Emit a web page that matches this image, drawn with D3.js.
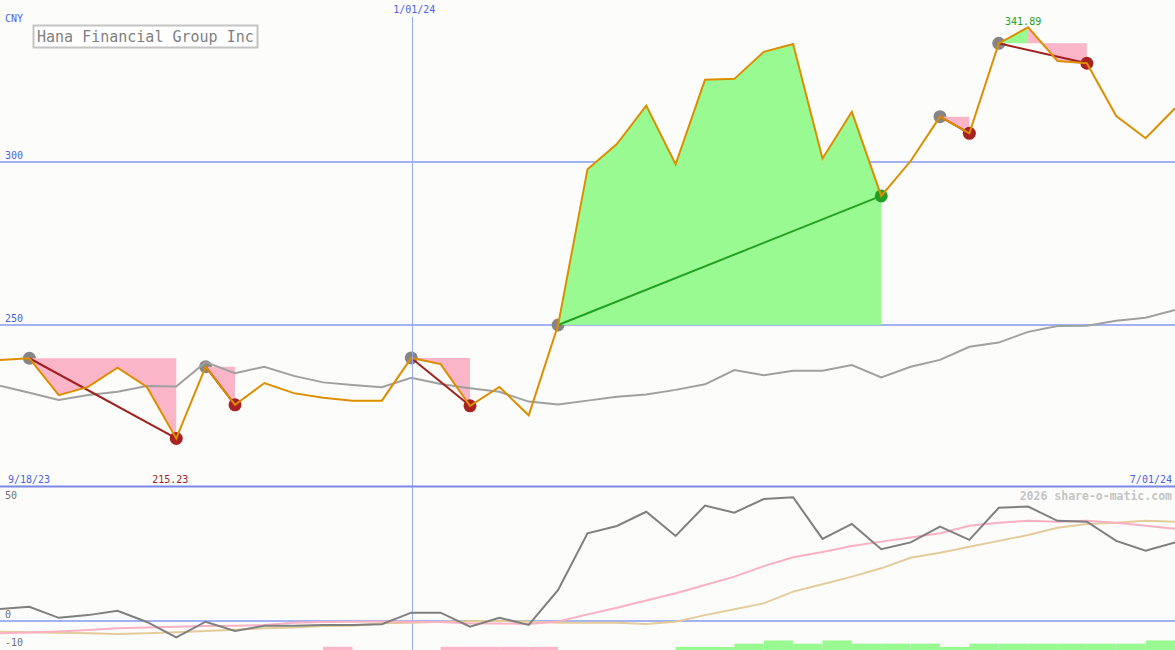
<!DOCTYPE html>
<html>
<head>
<meta charset="utf-8">
<script src="https://cdn.jsdelivr.net/npm/d3@7"></script>
<style>
  html, body { margin: 0; padding: 0; background: #fcfdfa; }
  svg { display: block; }
  text { font-family: "DejaVu Sans Mono", "Liberation Mono", monospace; }
</style>
</head>
<body>
<svg id="chart" width="1175" height="650"></svg>
<script>
// ---------- DATA ----------
const dates = ["2023-09-25","2023-10-02","2023-10-09","2023-10-16","2023-10-23","2023-10-30","2023-11-06","2023-11-13","2023-11-20","2023-11-27",
  "2023-12-04","2023-12-11","2023-12-18","2023-12-25","2024-01-01","2024-01-08","2024-01-15","2024-01-22","2024-01-29","2024-02-05",
  "2024-02-12","2024-02-19","2024-02-26","2024-03-04","2024-03-11","2024-03-18","2024-03-25","2024-04-01","2024-04-08","2024-04-15",
  "2024-04-22","2024-04-29","2024-05-06","2024-05-13","2024-05-20","2024-05-27","2024-06-03","2024-06-10","2024-06-17","2024-06-24","2024-07-01"];

const price = [239.3,239.8,228.5,231.0,236.9,231.0,215.2,237.2,225.5,232.2,
  229.1,227.7,226.8,226.8,239.9,238.0,225.2,231.0,222.3,250.0,
  297.8,305.5,317.3,299.3,325.2,325.5,333.8,336.2,301.1,315.4,
  289.6,300.3,313.9,308.8,336.4,341.3,331.0,330.3,314.1,307.3,316.5];

const priceMA = [231.4,229.2,227.0,228.5,229.5,231.3,231.1,238.6,235.2,237.2,
  234.4,232.4,231.6,230.9,233.8,231.9,230.6,229.5,226.5,225.6,
  226.8,228.0,228.7,230.1,231.8,236.2,234.6,236.0,236.0,237.7,
  233.9,237.2,239.3,243.3,244.6,247.9,249.7,249.8,251.3,252.2,254.6];

// lower panel
const momentum = [4.9,5.8,1.3,2.4,4.2,-0.4,-6.7,-0.3,-4.1,-1.9,
  -1.9,-1.6,-1.6,-1.3,3.4,3.4,-2.3,1.3,-1.6,12.7,
  35.8,38.8,44.6,34.7,47.1,44.2,49.8,50.5,33.5,39.6,
  29.3,32.1,38.5,33.1,46.2,46.7,40.9,40.5,32.7,28.7,32.1];
const momentumFast = [-5.0,-4.7,-4.3,-3.7,-3.0,-2.7,-2.3,-2.0,-1.9,-1.6,
  -0.7,-0.4,-0.3,-0.2,-0.3,-0.4,-1.0,-1.0,-1.2,-0.2,
  2.7,5.4,8.4,11.3,14.7,18.1,22.4,26.0,28.2,30.6,
  32.4,34.1,35.8,38.9,40.1,40.9,40.5,40.9,40.1,38.9,37.6];
const momentumSlow = [-4.4,-4.6,-4.8,-5.0,-5.3,-5.0,-4.6,-4.1,-3.6,-3.0,
  -2.7,-2.0,-1.9,-0.9,-0.7,-0.3,-0.1,0.1,-0.3,-0.7,
  -0.7,-0.7,-1.2,-0.3,2.4,4.8,7.2,12.0,15.0,18.1,
  21.5,25.8,27.9,30.3,32.7,35.1,38.1,39.6,40.1,40.9,40.5];
const histLevels = [0,0,0,0,0,0,0,0,0,0,
  0,-1,0,0,0,-1,-1,-1,-1,0,
  0,0,0,1,1,2,3,2,3,2,
  2,2,1,2,2,2,2,2,2,3];

// swings: start index, end index
const swingStart = [1, 7, 14, 19, 32, 34];
const swingEnd   = [6, 8, 16, 30, 33, 37];

const title = "Hana Financial Group Inc";
const currency = "CNY";
const priceTicks = [250, 300];
const momentumTicks = [50, 0, -10];
const momentumGrid = [0];
const dateMarker = "2024-01-01";
const dateMarkerLabel = "1/01/24";
const startLabel = "9/18/23";
const endLabel = "7/01/24";
const highLabel = {index: 35, text: "341.89"};
const lowLabel = {index: 6, text: "215.23"};
const credit = "2026 share-o-matic.com";

// ---------- STYLE ----------
const C = {
  bg: "#fcfdfa",
  blueText: "#4c5fe6",
  grid: "#a3b2f2",
  vline: "#97a9f6",
  sep: "#7a88ea",
  price: "#dd8e00",
  ma: "#a0a0a0",
  pink: "#fbb5c8",
  green: "#98fa91",
  redDot: "#a82222",
  greenDot: "#239d23",
  grayDot: "#858585",
  redLine: "#a01f1f",
  greenLine: "#23a023",
  mom: "#7f7f7f",
  momFast: "#fbb0c3",
  momSlow: "#e3cb9c"
};

// ---------- SCALES ----------
const W = 1175, H = 650;
const parse = d3.utcParse("%Y-%m-%d");
const dts = dates.map(parse);
const x = d3.scaleUtc().domain([dts[0], dts[dts.length - 1]]).range([0, W]);
const y = d3.scaleLinear().domain([250, 300]).range([325, 162]);
const y2 = d3.scaleLinear().domain([0, 50]).range([621, 498.5]);
const hScale = d3.scaleLinear().domain([0, 3]).range([0, 9.5]);

const svg = d3.select("#chart");
svg.append("rect").attr("width", W).attr("height", H).attr("fill", C.bg);

// ---------- MAIN PANEL ----------
const main = svg.append("g");
main.append("defs").append("clipPath").attr("id", "clipMain")
  .append("rect").attr("x", 0).attr("y", 0).attr("width", W).attr("height", 485);

// gridlines
main.selectAll("line.pgrid").data(priceTicks).join("line")
  .attr("x1", 0).attr("x2", W)
  .attr("y1", d => y(d)).attr("y2", d => y(d))
  .attr("stroke", C.grid).attr("stroke-width", 2);
main.selectAll("text.ptick").data(priceTicks).join("text")
  .attr("x", 5).attr("y", d => y(d) - 3)
  .attr("font-size", 10).attr("fill", C.blueText).text(d => d);

// vertical date marker
const vx = Math.round(x(parse(dateMarker))) + 1.5;
svg.append("line")
  .attr("x1", vx).attr("x2", vx)
  .attr("y1", 17).attr("y2", H)
  .attr("stroke", C.vline).attr("stroke-width", 1);
svg.append("text").attr("x", x(parse(dateMarker)) + 3).attr("y", 13)
  .attr("text-anchor", "middle").attr("font-size", 10).attr("fill", C.blueText)
  .text(dateMarkerLabel);

svg.append("text").attr("x", 5).attr("y", 22).attr("font-size", 10)
  .attr("fill", C.blueText).text(currency);

const plot = main.append("g").attr("clip-path", "url(#clipMain)");

// start dots
plot.selectAll("circle.start").data(swingStart).join("circle")
  .attr("cx", i => x(dts[i])).attr("cy", i => y(price[i])).attr("r", 6.5)
  .attr("fill", C.grayDot);

// swing fills: runs of consecutive segments coloured by the side of each segment end
const fills = [];
swingStart.forEach((s, k) => {
  const e = swingEnd[k];
  const level = price[s];
  let runStart = s, runUp = price[s + 1] >= level;
  for (let i = s + 1; i <= e; i++) {
    const up = i < e ? price[i + 1] >= level : null;
    if (i === e || up !== runUp) {
      const pts = [[x(dts[runStart]), y(level)]];
      for (let j = runStart; j <= i; j++) pts.push([x(dts[j]), y(price[j])]);
      pts.push([x(dts[i]), y(level)]);
      fills.push({pts, up: runUp});
      runStart = i; runUp = up;
    }
  }
});
plot.selectAll("path.fill").data(fills).join("path")
  .attr("d", d => "M" + d.pts.map(p => p.join(",")).join("L") + "Z")
  .attr("fill", d => d.up ? C.green : C.pink);

// moving average
const line = d3.line().x((d, i) => x(dts[i])).y(d => y(d));
plot.append("path").datum(priceMA).attr("d", line)
  .attr("fill", "none").attr("stroke", C.ma).attr("stroke-width", 2);

// end dots
plot.selectAll("circle.end").data(swingEnd).join("circle")
  .attr("cx", i => x(dts[i])).attr("cy", i => y(price[i])).attr("r", 6.5)
  .attr("fill", (i, k) => price[i] >= price[swingStart[k]] ? C.greenDot : C.redDot);

// swing lines
plot.selectAll("line.swing").data(swingStart).join("line")
  .attr("x1", s => x(dts[s])).attr("y1", s => y(price[s]))
  .attr("x2", (s, k) => x(dts[swingEnd[k]])).attr("y2", (s, k) => y(price[swingEnd[k]]))
  .attr("stroke", (s, k) => price[swingEnd[k]] >= price[s] ? C.greenLine : C.redLine)
  .attr("stroke-width", 2);

// price line
plot.append("path").datum(price).attr("d", line)
  .attr("fill", "none").attr("stroke", C.price).attr("stroke-width", 2)
  .attr("stroke-linejoin", "miter");

// title box
svg.append("rect").attr("x", 33.5).attr("y", 25.5).attr("width", 224).attr("height", 22)
  .attr("fill", "#ffffff").attr("stroke", "#c3c3c3").attr("stroke-width", 2);
svg.append("text").attr("x", 37).attr("y", 42).attr("font-size", 15)
  .attr("fill", "#808080").text(title);

// high / low labels
svg.append("text").attr("x", x(dts[highLabel.index]) - 5).attr("y", 25)
  .attr("text-anchor", "middle").attr("font-size", 10).attr("fill", C.greenDot).text(highLabel.text);
svg.append("text").attr("x", x(dts[lowLabel.index]) - 6).attr("y", 483)
  .attr("text-anchor", "middle").attr("font-size", 10).attr("fill", C.redDot).text(lowLabel.text);

svg.append("text").attr("x", 8).attr("y", 483).attr("font-size", 10)
  .attr("fill", C.blueText).text(startLabel);
svg.append("text").attr("x", 1172).attr("y", 483).attr("text-anchor", "end").attr("font-size", 10)
  .attr("fill", C.blueText).text(endLabel);

// separator
svg.append("line").attr("x1", 0).attr("x2", W).attr("y1", 486.5).attr("y2", 486.5)
  .attr("stroke", C.sep).attr("stroke-width", 2);

// ---------- LOWER PANEL ----------
const low = svg.append("g");
low.selectAll("line.mgrid").data(momentumGrid).join("line")
  .attr("x1", 0).attr("x2", W).attr("y1", d => y2(d)).attr("y2", d => y2(d))
  .attr("stroke", C.grid).attr("stroke-width", 2);

low.selectAll("rect.hist").data(histLevels.map((v, i) => ({v, i})).filter(d => d.v !== 0)).join("rect")
  .attr("x", d => x(dts[d.i])).attr("width", d => x(dts[d.i + 1]) - x(dts[d.i]))
  .attr("y", d => H - hScale(Math.abs(d.v))).attr("height", d => hScale(Math.abs(d.v)))
  .attr("fill", d => d.v > 0 ? C.green : C.pink);

const line2 = d3.line().x((d, i) => x(dts[i])).y(d => y2(d));
low.append("path").datum(momentumSlow).attr("d", line2)
  .attr("fill", "none").attr("stroke", C.momSlow).attr("stroke-width", 2);
low.append("path").datum(momentumFast).attr("d", line2)
  .attr("fill", "none").attr("stroke", C.momFast).attr("stroke-width", 2);
low.append("path").datum(momentum).attr("d", line2)
  .attr("fill", "none").attr("stroke", C.mom).attr("stroke-width", 2);

low.selectAll("text.mtick").data(momentumTicks).join("text")
  .attr("x", 5).attr("y", d => d === 0 ? y2(d) - 3 : y2(d) + 0.5)
  .attr("font-size", 10).attr("fill", "#707070").text(d => d);

svg.append("text").attr("x", 1172).attr("y", 500).attr("text-anchor", "end")
  .attr("font-size", 11.5).attr("font-weight", "bold").attr("fill", "#c4c4c4").text(credit);
</script>
</body>
</html>
